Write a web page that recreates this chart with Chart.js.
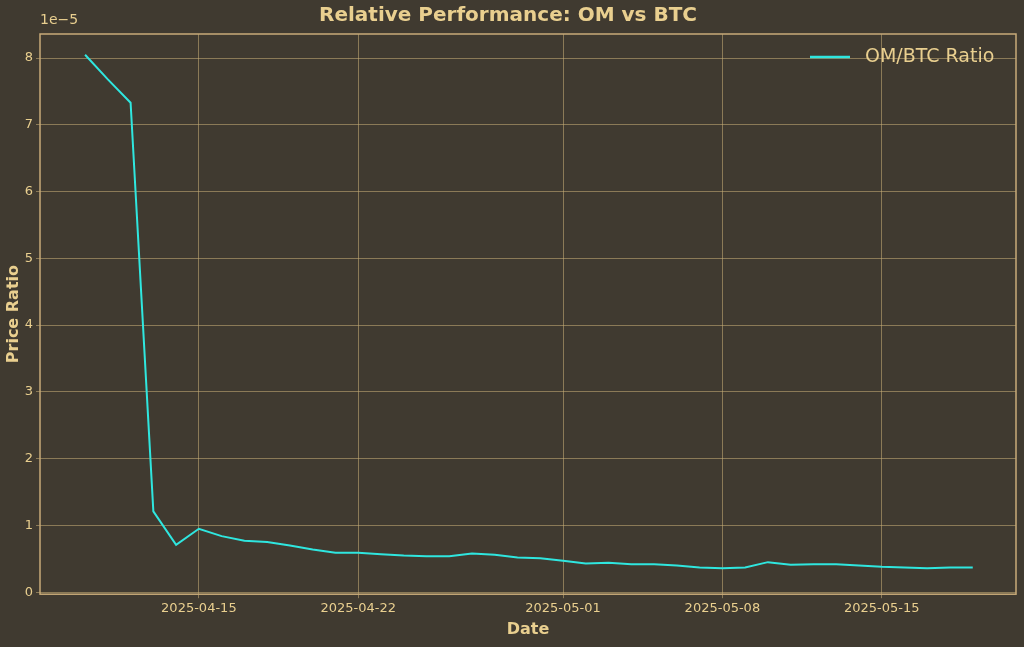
<!DOCTYPE html>
<html><head><meta charset="utf-8">
<script src="https://cdn.jsdelivr.net/npm/chart.js@4.4.1/dist/chart.umd.min.js"></script>
<style>html,body{margin:0;padding:0;background:#403a30;}#wrap{width:1024px;height:647px;}</style>
</head><body><div id="wrap"><canvas id="c"></canvas></div>
<script>
const dates = ['2025-04-10','2025-04-11','2025-04-12','2025-04-13','2025-04-14','2025-04-15','2025-04-16','2025-04-17','2025-04-18','2025-04-19','2025-04-20','2025-04-21','2025-04-22','2025-04-23','2025-04-24','2025-04-25','2025-04-26','2025-04-27','2025-04-28','2025-04-29','2025-04-30','2025-05-01','2025-05-02','2025-05-03','2025-05-04','2025-05-05','2025-05-06','2025-05-07','2025-05-08','2025-05-09','2025-05-10','2025-05-11','2025-05-12','2025-05-13','2025-05-14','2025-05-15','2025-05-16','2025-05-17','2025-05-18','2025-05-19'];
const ratioE5 = [8.05,7.68,7.33,1.21,0.71,0.95,0.84,0.77,0.75,0.70,0.64,0.59,0.59,0.57,0.55,0.54,0.54,0.58,0.56,0.52,0.51,0.47,0.43,0.44,0.42,0.42,0.40,0.37,0.36,0.37,0.45,0.41,0.42,0.42,0.40,0.38,0.37,0.36,0.37,0.37];
const tickDates = ['2025-04-15','2025-04-22','2025-05-01','2025-05-08','2025-05-15'];
const yTicks = [0,1,2,3,4,5,6,7,8];
const seriesName = 'OM/BTC Ratio';

const TXT = '#e9cf8f', GRID = 'rgba(200,175,120,0.55)';
const tickIdx = tickDates.map(d => dates.indexOf(d));
const pts = ratioE5.map((v,i)=>({x:i,y:v}));

const deco = {
  id:'deco',
  afterDraw(ch){
    const c=ch.ctx, a=ch.chartArea;
    c.save();
    c.strokeStyle='#c8ab78'; c.lineWidth=1.5;
    c.strokeRect(a.left,a.top,a.right-a.left,a.bottom-a.top);
    c.fillStyle=TXT; c.font='14px "DejaVu Sans", sans-serif';
    c.textBaseline='middle'; c.textAlign='left';
    c.fillText('1e\u22125', 40, 20);
    // legend
    const lx=810, ly=57;
    c.strokeStyle='#2fe6df'; c.lineWidth=2.5;
    c.beginPath(); c.moveTo(lx,ly); c.lineTo(lx+40,ly); c.stroke();
    c.font='19px "DejaVu Sans", sans-serif';
    c.fillText(seriesName, lx+55, ly);
    c.restore();
  }
};

new Chart(document.getElementById('c'), {
  type:'line',
  data:{datasets:[{label:seriesName,data:pts,borderColor:'#2fe6df',borderWidth:2,pointRadius:0,tension:0}]},
  options:{
    responsive:true, maintainAspectRatio:false, animation:false,
    layout:{padding:{left:0,right:8,top:0,bottom:4}},
    plugins:{
      legend:{display:false},
      tooltip:{enabled:false},
      title:{display:true,text:'Relative Performance: OM vs BTC',color:TXT,
        font:{family:'"DejaVu Sans", sans-serif',size:20,weight:'bold'},padding:{top:4,bottom:6}}
    },
    scales:{
      x:{type:'linear',min:-1.98,max:40.9,
        afterBuildTicks(ax){ax.ticks=tickIdx.map(v=>({value:v}));},
        ticks:{color:TXT,font:{family:'"DejaVu Sans", sans-serif',size:13},maxRotation:0,autoSkip:false,
          callback:(v)=>dates[v]||''},
        grid:{color:GRID,borderDash:[4,3],drawTicks:true,tickLength:4},
        border:{display:false},
        title:{display:true,text:'Date',color:TXT,font:{family:'"DejaVu Sans", sans-serif',size:16,weight:'bold'},padding:{top:0}}
      },
      y:{min:-0.03,max:8.36,
        afterBuildTicks(ax){ax.ticks=yTicks.map(v=>({value:v}));},
        afterFit(ax){ax.width=40;},
        ticks:{color:TXT,font:{family:'"DejaVu Sans", sans-serif',size:13}},
        grid:{color:GRID,borderDash:[4,3],tickLength:4},
        border:{display:false},
        title:{display:true,text:'Price Ratio',color:TXT,font:{family:'"DejaVu Sans", sans-serif',size:16,weight:'bold'},padding:{bottom:0}}
      }
    }
  },
  plugins:[deco]
});
</script></body></html>
